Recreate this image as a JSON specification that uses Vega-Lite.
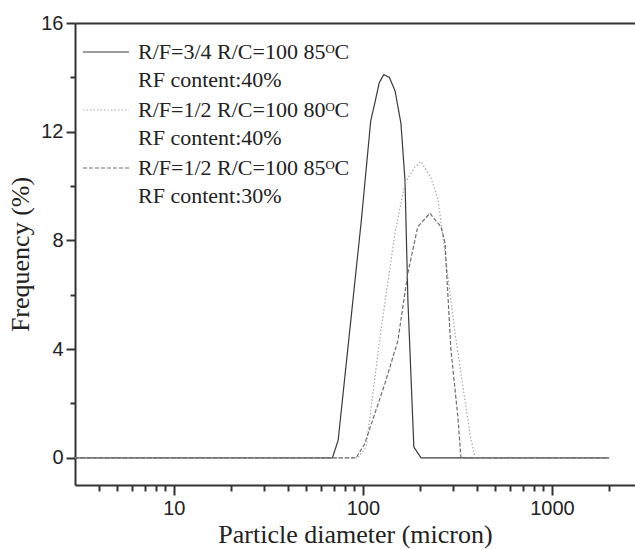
{
  "$schema": "https://vega.github.io/schema/vega-lite/v6.json",
  "width": 560,
  "height": 462,
  "autosize": {"type": "none"},
  "padding": {"left": 75, "top": 23, "right": 0, "bottom": 64},
  "background": "white",
  "data": {
    "values": [
      {"d": 3, "f": 0, "s": "a"}, {"d": 69, "f": 0, "s": "a"}, {"d": 74, "f": 0.65, "s": "a"},
      {"d": 98, "f": 8.7, "s": "a"}, {"d": 110, "f": 12.4, "s": "a"}, {"d": 116, "f": 13.1, "s": "a"},
      {"d": 122, "f": 13.8, "s": "a"}, {"d": 129, "f": 14.1, "s": "a"}, {"d": 138, "f": 14.0, "s": "a"},
      {"d": 148, "f": 13.5, "s": "a"}, {"d": 159, "f": 12.3, "s": "a"}, {"d": 167, "f": 10.2, "s": "a"},
      {"d": 173, "f": 5.8, "s": "a"}, {"d": 186, "f": 0.4, "s": "a"}, {"d": 203, "f": 0, "s": "a"},
      {"d": 2000, "f": 0, "s": "a"},
      {"d": 3, "f": 0, "s": "b"}, {"d": 94, "f": 0, "s": "b"}, {"d": 104, "f": 0.4, "s": "b"},
      {"d": 124, "f": 4.6, "s": "b"}, {"d": 148, "f": 8.3, "s": "b"}, {"d": 167, "f": 10.1, "s": "b"},
      {"d": 188, "f": 10.7, "s": "b"}, {"d": 203, "f": 10.9, "s": "b"}, {"d": 229, "f": 10.3, "s": "b"},
      {"d": 250, "f": 9.5, "s": "b"}, {"d": 307, "f": 4.6, "s": "b"}, {"d": 347, "f": 2.1, "s": "b"},
      {"d": 368, "f": 0.9, "s": "b"}, {"d": 392, "f": 0, "s": "b"}, {"d": 2000, "f": 0, "s": "b"},
      {"d": 3, "f": 0, "s": "c"}, {"d": 92, "f": 0, "s": "c"}, {"d": 102, "f": 0.5, "s": "c"},
      {"d": 131, "f": 2.75, "s": "c"}, {"d": 153, "f": 4.3, "s": "c"}, {"d": 173, "f": 6.8, "s": "c"},
      {"d": 195, "f": 8.5, "s": "c"}, {"d": 226, "f": 9.0, "s": "c"}, {"d": 259, "f": 8.5, "s": "c"},
      {"d": 272, "f": 7.9, "s": "c"}, {"d": 292, "f": 4.0, "s": "c"}, {"d": 318, "f": 1.5, "s": "c"},
      {"d": 330, "f": 0, "s": "c"}, {"d": 2000, "f": 0, "s": "c"}
    ]
  },
  "layer": [
    {
      "mark": {"type": "line", "strokeWidth": 1.2, "clip": true},
      "encoding": {
        "x": {
          "field": "d", "type": "quantitative",
          "scale": {"type": "log", "domain": [3, 2750], "nice": false},
          "axis": {"values": [10, 100, 1000], "format": "d", "tickSize": 10, "labelPadding": 3, "title": "Particle diameter (micron)", "titlePadding": 3}
        },
        "y": {
          "field": "f", "type": "quantitative",
          "scale": {"domain": [-1, 16], "nice": false, "zero": false},
          "axis": {"values": [0, 4, 8, 12, 16], "tickSize": 9, "labelPadding": 3, "title": "Frequency (%)", "titlePadding": 7}
        },
        "color": {
          "field": "s", "type": "nominal",
          "scale": {"domain": ["a", "b", "c"], "range": ["#3a3a3a", "#a8a8a8", "#6e6e6e"]},
          "legend": {
            "orient": "top-left", "offset": 7, "padding": 0,
            "title": "\u00a0", "titleFontSize": 1, "titlePadding": 10,
            "symbolType": "stroke", "symbolSize": 2116, "symbolStrokeWidth": 1.2,
            "labelFont": "Liberation Serif", "labelFontSize": 22, "labelColor": "#222",
            "labelOffset": 8, "labelLimit": 0, "labelBaseline": "middle", "rowPadding": 8,
            "labelExpr": "datum.value == 'a' ? ['R/F=3/4 R/C=100 85\u1d3cC', '\u00a0\u00a0RF content:40%'] : datum.value == 'b' ? ['R/F=1/2 R/C=100 80\u1d3cC', '\u00a0RF content:40%'] : ['R/F=1/2 R/C=100 85\u1d3cC', '\u00a0RF content:30%']",
            "encode": {
              "labels": {"update": {"lineHeight": {"value": 28}, "y": {"value": 11}}},
              "symbols": {"update": {"y": {"value": 11}}}
            }
          }
        },
        "strokeDash": {
          "field": "s", "type": "nominal",
          "scale": {"domain": ["a", "b", "c"], "range": [[1, 0], [1.5, 2], [4, 2]]},
          "legend": null
        }
      }
    },
    {
      "mark": {"type": "line", "opacity": 0},
      "encoding": {
        "x": {"field": "d", "type": "quantitative", "axis": {"orient": "bottom", "values": [4, 5, 6, 7, 8, 9, 20, 30, 40, 50, 60, 70, 80, 90, 200, 300, 400, 500, 600, 700, 800, 900, 2000], "labels": false, "domain": false, "tickSize": 6, "title": null}},
        "y": {"field": "f", "type": "quantitative", "axis": {"orient": "left", "values": [2, 6, 10, 14], "labels": false, "domain": false, "tickSize": 5, "title": null}},
        "detail": {"field": "s"}
      }
    },
    {
      "mark": {"type": "line", "opacity": 0},
      "encoding": {
        "x": {"field": "d", "type": "quantitative", "axis": {"orient": "top", "labels": false, "ticks": false, "domain": true, "title": null}},
        "y": {"field": "f", "type": "quantitative", "axis": null},
        "detail": {"field": "s"}
      }
    }
  ],
  "resolve": {"axis": {"x": "independent", "y": "independent"}},
  "config": {
    "view": {"stroke": null},
    "axis": {
      "grid": false, "domainColor": "#333", "domainWidth": 2, "tickColor": "#333", "tickWidth": 2,
      "labelFont": "Liberation Sans", "labelFontSize": 20, "labelColor": "#222",
      "titleFont": "Liberation Serif", "titleFontSize": 26, "titleFontWeight": "normal", "titleColor": "#222"
    }
  }
}
